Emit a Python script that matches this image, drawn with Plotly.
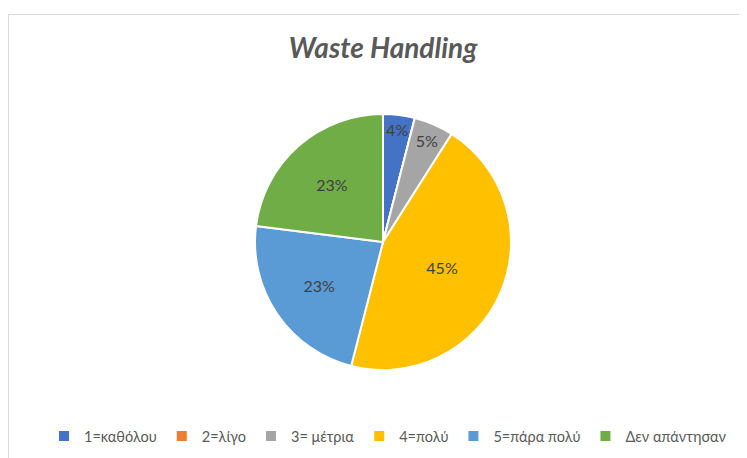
import plotly.graph_objects as go

labels = ["1=καθόλου", "2=λίγο", "3= μέτρια", "4=πολύ", "5=πάρα πολύ", "Δεν απάντησαν"]
values = [4, 0, 5, 45, 23, 23]
colors = ["#4472C4", "#ED7D31", "#A5A5A5", "#FFC000", "#5B9BD5", "#70AD47"]
texts = [f"{v}%" if v > 0 else "" for v in values]

W, H = 747, 458
OFF = 8  # page body margin
cx, cy, r = 383 - OFF, 242 - OFF, 128

fig = go.Figure(go.Pie(
    labels=labels, values=values, sort=False, direction="clockwise",
    marker=dict(colors=colors, line=dict(color="white", width=2)),
    text=texts, textinfo="text", textposition="inside",
    insidetextorientation="horizontal",
    textfont=dict(family="Lato", size=16, color="#404040"),
    domain=dict(x=[(cx - r) / W, (cx + r) / W], y=[(H - cy - r) / H, (H - cy + r) / H]),
    hoverinfo="label+percent",
))

fig.update_layout(
    width=W, height=H,
    margin=dict(l=0, r=0, t=0, b=0),
    paper_bgcolor="white",
    font=dict(family="Lato", color="#595959"),
    title=dict(text="<b><i>Waste Handling</i></b>", x=(383 - OFF) / W, xanchor="center",
               y=(H - 48 + OFF) / H, yanchor="middle",
               font=dict(family="Lato", size=28, color="#595959")),
    uniformtext=dict(minsize=16, mode="show"),
    legend=dict(orientation="h", x=(388 - OFF) / W, xanchor="center", y=(H - 436 + OFF) / H, yanchor="middle",
                font=dict(family="Lato", size=14.5, color="#595959"), traceorder="normal"),
    shapes=[
        dict(type="line", xref="paper", yref="paper", x0=0.5 / W, x1=1.0, y0=(H - 6.5) / H, y1=(H - 6.5) / H,
             line=dict(color="#D9D9D9", width=1)),
        dict(type="line", xref="paper", yref="paper", x0=0.5 / W, x1=0.5 / W, y0=0, y1=(H - 6.5) / H,
             line=dict(color="#D9D9D9", width=1)),
    ],
)

fig.write_html("out.html")
